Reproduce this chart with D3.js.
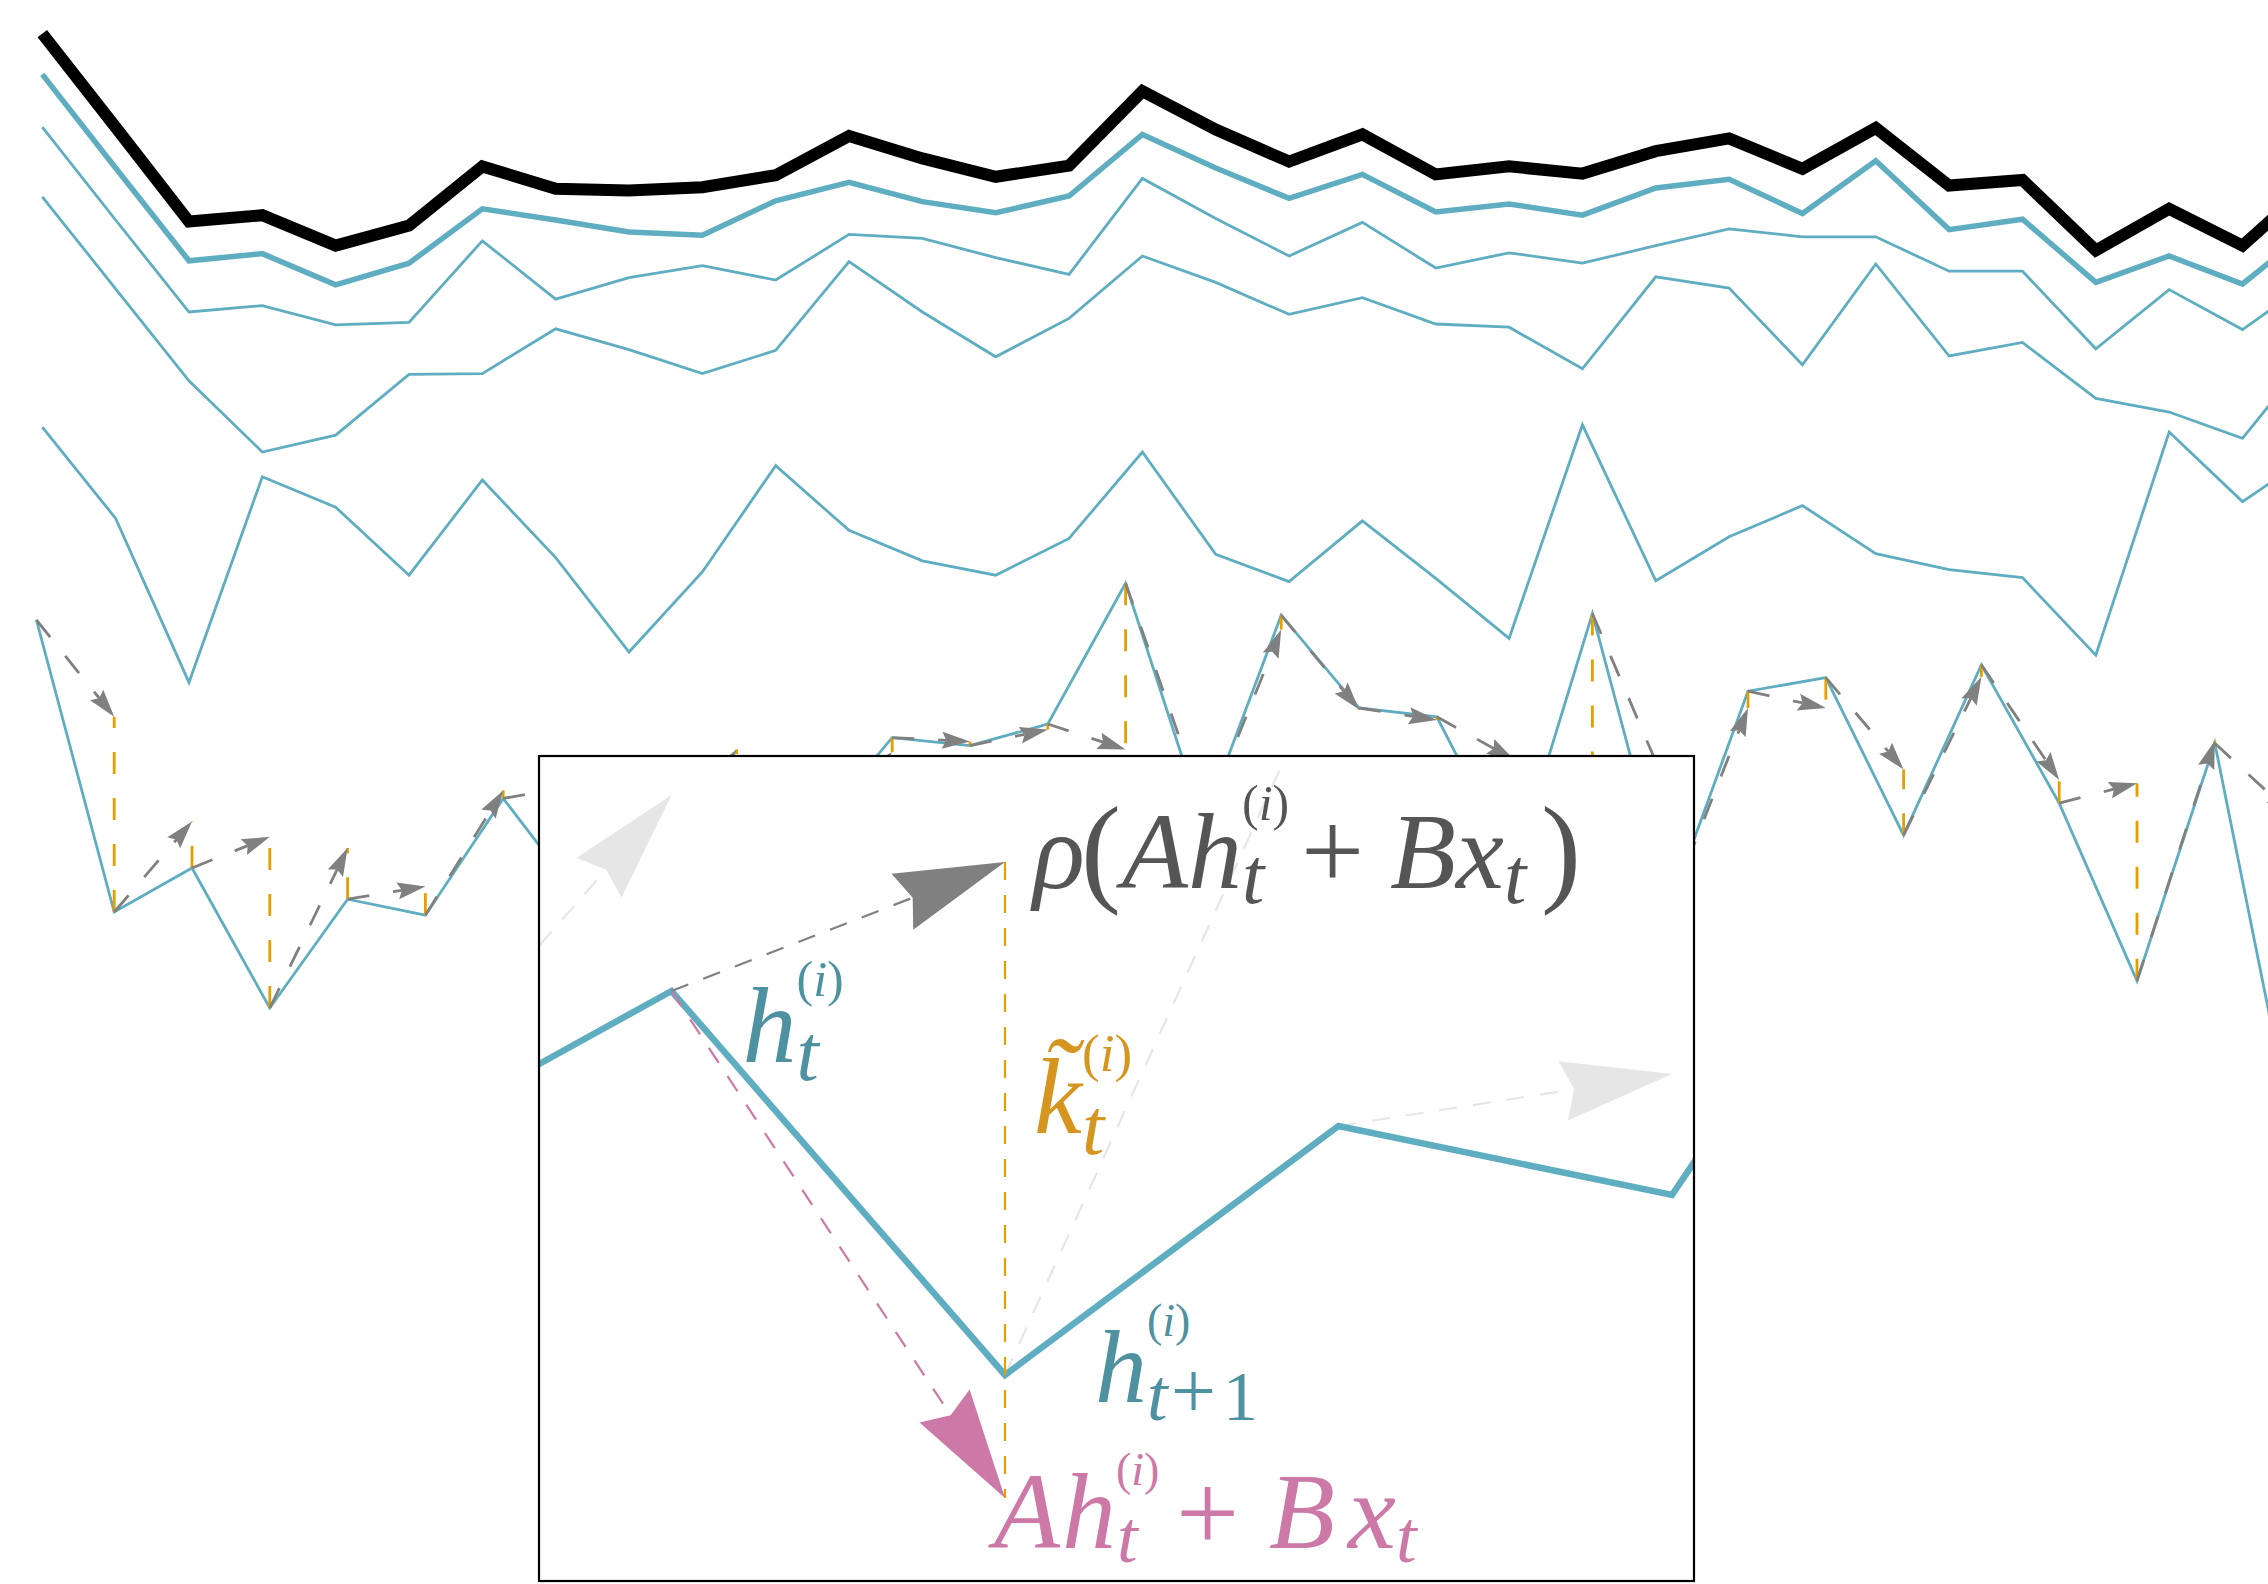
<!DOCTYPE html>
<html>
<head>
<meta charset="utf-8">
<script src="https://cdn.jsdelivr.net/npm/d3@7"></script>
<style>
  html, body { margin: 0; padding: 0; background: #ffffff; }
  svg { display: block; }
</style>
</head>
<body>
<svg id="chart" width="2268" height="1584"></svg>
<script>
// ---------------------------------------------------------------
// Data: activation traces over time steps (arbitrary units)
// ---------------------------------------------------------------
const timeSteps = d3.range(32);

// readout trace (black) and four hidden-unit traces (teal)
const outputTrace = [9.58, 8.41, 7.23, 7.31, 6.93, 7.18, 7.92, 7.64, 7.62, 7.66, 7.81, 8.30, 8.02, 7.79, 7.93, 8.86,
                     8.38, 7.98, 8.32, 7.82, 7.92, 7.83, 8.11, 8.27, 7.89, 8.40, 7.68, 7.75, 6.87, 7.39, 6.93, 7.75];
const hiddenTrace1 = [9.07, 7.90, 6.74, 6.83, 6.44, 6.71, 7.39, 7.25, 7.10, 7.06, 7.49, 7.72, 7.48, 7.34, 7.55, 8.32,
                      7.90, 7.52, 7.82, 7.35, 7.45, 7.31, 7.65, 7.76, 7.33, 7.99, 7.13, 7.26, 6.47, 6.80, 6.45, 7.19];
const hiddenTrace2 = [8.41, 7.25, 6.10, 6.18, 5.94, 5.97, 6.99, 6.26, 6.53, 6.68, 6.50, 7.07, 7.02, 6.78, 6.57, 7.77,
                      7.27, 6.80, 7.22, 6.65, 6.84, 6.71, 6.93, 7.14, 7.04, 7.04, 6.61, 6.61, 5.64, 6.38, 5.88, 6.53];
const hiddenTrace3 = [7.54, 6.39, 5.24, 4.35, 4.56, 5.32, 5.33, 5.89, 5.63, 5.33, 5.62, 6.73, 6.10, 5.54, 6.02, 6.80,
                      6.47, 6.07, 6.28, 5.95, 5.91, 5.39, 6.54, 6.40, 5.44, 6.70, 5.55, 5.72, 5.02, 4.85, 4.52, 5.66];
const hiddenTrace4 = [4.66, 3.52, 1.47, 4.04, 3.66, 2.81, 4.00, 3.03, 1.85, 2.85, 4.18, 3.37, 2.99, 2.81, 3.27, 4.35,
                      3.07, 2.73, 3.49, 2.77, 2.02, 4.69, 2.74, 3.29, 3.68, 3.08, 2.88, 2.78, 1.81, 4.60, 3.73, 4.35];

// single unit unrolled step by step: state h_t and the proposal rho(A h_t + B x_t) for the next step
const unitSteps = d3.range(30);
const unitState = [2.25, -1.40, -0.85, -2.60, -1.24, -1.44, 0.02, -1.25, -0.75, 0.00, -0.38, 0.78, 0.68, 0.95, 2.71,
                   -0.28, 2.31, 1.15, 1.04, -0.85, 2.33, -1.31, 1.36, 1.53, -0.44, 1.69, -0.04, -2.26, 0.71, -4.13];
const unitProposal = [null, 1.04, -0.27, -0.46, -0.60, -1.08, 0.12, 0.19, -1.00, 0.63, 0.13, 0.60, 0.73, 0.88, 0.63,
                      -0.08, 2.13, 1.13, 1.00, 0.50, 0.13, 0.06, 1.15, 1.15, 0.38, 1.54, 0.25, 0.21, 0.74, -0.19];

// close-up of one update (t = step 1 of the window)
const zoomSteps = d3.range(6);
const zoomState = [-1.35, 0.49, -3.35, -0.86, -1.55, 3.40];
const zoomProposal = [null, 2.45, 1.78, 4.00, -0.34, null];
const zoomLinear = [null, null, -4.58, null, null, null];
const focusStep = 1;

// ---------------------------------------------------------------
// Styling
// ---------------------------------------------------------------
const teal = '#5fadc1', tealText = '#4e91a1';
const orange = '#e69f00', orangeText = '#d6951f';
const pink = '#cc79a7', gray = '#808080', labelGray = '#555555', ghost = '#e6e6e6';
const mathFont = "'Liberation Serif', 'Times New Roman', serif";

const W = 2268, H = 1584;
const svg = d3.select('#chart').attr('viewBox', `0 0 ${W} ${H}`);

// ---------------------------------------------------------------
// Scales
// ---------------------------------------------------------------
const y = d3.scaleLinear().domain([10, -9.8]).range([0, H]);
const xTrace = d3.scaleLinear().domain([0, 30]).range([42.3, 2242.5]);
const xUnit = d3.scaleLinear().domain([0, 28]).range([36.4, 2214.8]);

const zoomBox = { x0: 539, y0: 756, x1: 1694, y1: 1581 };
const xZoom = d3.scaleLinear().domain([0, 5]).range([338, 2005.5]);
const yZoom = d3.scaleLinear().domain([0, 1]).range([1040, 940]);

// ---------------------------------------------------------------
// helpers
// ---------------------------------------------------------------
function arrowGeom(x1, y1, x2, y2, L, Wd, notch) {
  const dx = x2 - x1, dy = y2 - y1, len = Math.hypot(dx, dy) || 1;
  const ux = dx / len, uy = dy / len, nx = -uy, ny = ux;
  const bx = x2 - ux * L, by = y2 - uy * L;
  const mx = x2 - ux * L * (1 - notch), my = y2 - uy * L * (1 - notch);
  return {
    head: `M${x2},${y2}L${bx + nx * Wd},${by + ny * Wd}L${mx},${my}L${bx - nx * Wd},${by - ny * Wd}Z`,
    sx: mx, sy: my
  };
}

function drawArrow(g, x1, y1, x2, y2, opt) {
  const a = arrowGeom(x1, y1, x2, y2, opt.L, opt.W, opt.notch);
  g.append('line')
    .attr('x1', x1).attr('y1', y1).attr('x2', a.sx).attr('y2', a.sy)
    .attr('stroke', opt.color).attr('stroke-width', opt.width)
    .attr('stroke-dasharray', opt.dash).attr('fill', 'none');
  g.append('path').attr('d', a.head).attr('fill', opt.color).attr('stroke', 'none');
}

// one <text> per formula; each glyph group is a positioned tspan
function mathLabel(g, ox, oy, color, parts) {
  const t = g.append('text')
    .attr('font-family', mathFont)
    .attr('fill', color);
  parts.forEach(p => {
    const span = t.append('tspan')
      .attr('x', ox + p.dx).attr('y', oy + (p.dy || 0))
      .attr('font-size', p.size);
    p.s.forEach(([txt, it]) => {
      span.append('tspan').attr('font-style', it ? 'italic' : 'normal').text(txt);
    });
  });
}

// ---------------------------------------------------------------
// upper traces
// ---------------------------------------------------------------
const traceLine = d3.line().x((d, i) => xTrace(timeSteps[i])).y(d => y(d));
const traces = [
  { data: hiddenTrace4, color: teal, width: 2.8 },
  { data: hiddenTrace3, color: teal, width: 2.8 },
  { data: hiddenTrace2, color: teal, width: 2.8 },
  { data: hiddenTrace1, color: teal, width: 5.5 },
  { data: outputTrace, color: '#000000', width: 12 }
];
svg.append('g').selectAll('path').data(traces).join('path')
  .attr('d', d => traceLine(d.data))
  .attr('fill', 'none')
  .attr('stroke', d => d.color)
  .attr('stroke-width', d => d.width)
  .attr('stroke-linejoin', 'miter');

// ---------------------------------------------------------------
// single unit with its per-step updates
// ---------------------------------------------------------------
const unitG = svg.append('g');
const unitLine = d3.line().x((d, i) => xUnit(unitSteps[i])).y(d => y(d));
unitG.append('path').attr('d', unitLine(unitState))
  .attr('fill', 'none').attr('stroke', teal).attr('stroke-width', 2.8);

// orange gap between the new state and the proposal
unitSteps.forEach(i => {
  if (unitProposal[i] === null) return;
  unitG.append('line')
    .attr('x1', xUnit(i)).attr('y1', y(unitState[i]))
    .attr('x2', xUnit(i)).attr('y2', y(unitProposal[i]))
    .attr('stroke', orange).attr('stroke-width', 2.8)
    .attr('stroke-dasharray', '22,24');
});
// gray arrow from h_t to the proposal for step t+1
unitSteps.forEach(i => {
  if (i === 0 || unitProposal[i] === null) return;
  drawArrow(unitG, xUnit(i - 1), y(unitState[i - 1]), xUnit(i), y(unitProposal[i]),
    { L: 28, W: 8.5, notch: 0.15, color: gray, width: 2.8, dash: '22,24' });
});

// ---------------------------------------------------------------
// close-up panel
// ---------------------------------------------------------------
const defs = svg.append('defs');
defs.append('clipPath').attr('id', 'zoomClip').append('rect')
  .attr('x', zoomBox.x0).attr('y', zoomBox.y0)
  .attr('width', zoomBox.x1 - zoomBox.x0).attr('height', zoomBox.y1 - zoomBox.y0);

svg.append('rect')
  .attr('x', zoomBox.x0).attr('y', zoomBox.y0)
  .attr('width', zoomBox.x1 - zoomBox.x0).attr('height', zoomBox.y1 - zoomBox.y0)
  .attr('fill', '#ffffff').attr('stroke', 'none');

const zg = svg.append('g').attr('clip-path', 'url(#zoomClip)');
const bigHead = { L: 110, W: 30, notch: 0.1, width: 2.2, dash: '18,16' };

// faint updates of the neighbouring steps
zoomSteps.forEach(i => {
  if (i === 0 || zoomProposal[i] === null || i - 1 === focusStep) return;
  drawArrow(zg, xZoom(i - 1), yZoom(zoomState[i - 1]), xZoom(i), yZoom(zoomProposal[i]),
    Object.assign({}, bigHead, { color: ghost }));
});

// state trajectory
const zoomLine = d3.line().x((d, i) => xZoom(zoomSteps[i])).y(d => yZoom(d));
zg.append('path').attr('d', zoomLine(zoomState))
  .attr('fill', 'none').attr('stroke', teal).attr('stroke-width', 6.5);

// highlighted update
const tNext = focusStep + 1;
zg.append('line')
  .attr('x1', xZoom(tNext)).attr('y1', yZoom(zoomProposal[tNext]))
  .attr('x2', xZoom(tNext)).attr('y2', yZoom(zoomLinear[tNext]))
  .attr('stroke', orange).attr('stroke-width', 2.2).attr('stroke-dasharray', '18,15');
drawArrow(zg, xZoom(focusStep), yZoom(zoomState[focusStep]), xZoom(tNext), yZoom(zoomProposal[tNext]),
  Object.assign({}, bigHead, { color: gray }));
drawArrow(zg, xZoom(focusStep), yZoom(zoomState[focusStep]), xZoom(tNext), yZoom(zoomLinear[tNext]),
  Object.assign({}, bigHead, { color: pink }));

// labels
const pH = [xZoom(focusStep), yZoom(zoomState[focusStep])];
const pRho = [xZoom(tNext), yZoom(zoomProposal[tNext])];
const pNext = [xZoom(tNext), yZoom(zoomState[tNext])];
const pLin = [xZoom(tNext), yZoom(zoomLinear[tNext])];
const sup = [['(', 0], ['i', 1], [')', 0]];

mathLabel(zg, pRho[0] + 28, pRho[1] + 26, labelGray, [
  { s: [['ρ', 1]], dx: 0, size: 108 },
  { s: [['(', 0]], dx: 48, dy: 2, size: 120 },
  { s: [['A', 1]], dx: 89, size: 108 },
  { s: [['h', 1]], dx: 155, size: 108 },
  { s: sup, dx: 209, dy: -68, size: 50 },
  { s: [['t', 1]], dx: 209, dy: 15, size: 80 },
  { s: [['+', 0]], dx: 268, dy: 1, size: 112 },
  { s: [['B', 1]], dx: 357, size: 108 },
  { s: [['x', 1]], dx: 423, size: 108 },
  { s: [['t', 1]], dx: 471, dy: 15, size: 80 },
  { s: [[')', 0]], dx: 508, dy: 2, size: 120 }
]);

mathLabel(zg, pH[0] + 71, pH[1] + 71, tealText, [
  { s: [['h', 1]], dx: 0, size: 108 },
  { s: sup, dx: 54, dy: -66, size: 50 },
  { s: [['t', 1]], dx: 54, dy: 18, size: 80 }
]);

mathLabel(zg, pRho[0] + 29, pRho[1] + 271, orangeText, [
  { s: [['k\u0303', 1]], dx: 0, size: 108 },
  { s: sup, dx: 48, dy: -62, size: 53 },
  { s: [['t', 1]], dx: 48, dy: 21, size: 80 }
]);

mathLabel(zg, pNext[0] + 90, pNext[1] + 27, tealText, [
  { s: [['h', 1]], dx: 0, size: 104 },
  { s: sup, dx: 52, dy: -66, size: 46 },
  { s: [['t', 1]], dx: 52, dy: 18, size: 74 },
  { s: [['+', 0]], dx: 76, dy: 16, size: 80 },
  { s: [['1', 0]], dx: 128, dy: 18, size: 70 }
]);

mathLabel(zg, pLin[0] - 11, pLin[1] + 50, pink, [
  { s: [['A', 1]], dx: 0, size: 108 },
  { s: [['h', 1]], dx: 68, size: 108 },
  { s: sup, dx: 122, dy: -63, size: 46 },
  { s: [['t', 1]], dx: 123, dy: 14, size: 74 },
  { s: [['+', 0]], dx: 182, dy: 3, size: 112 },
  { s: [['B', 1]], dx: 275, size: 108 },
  { s: [['x', 1]], dx: 354, size: 108 },
  { s: [['t', 1]], dx: 402, dy: 14, size: 74 }
]);

// frame of the close-up
svg.append('rect')
  .attr('x', zoomBox.x0).attr('y', zoomBox.y0)
  .attr('width', zoomBox.x1 - zoomBox.x0).attr('height', zoomBox.y1 - zoomBox.y0)
  .attr('fill', 'none').attr('stroke', '#000000').attr('stroke-width', 2.2);
</script>
</body>
</html>
